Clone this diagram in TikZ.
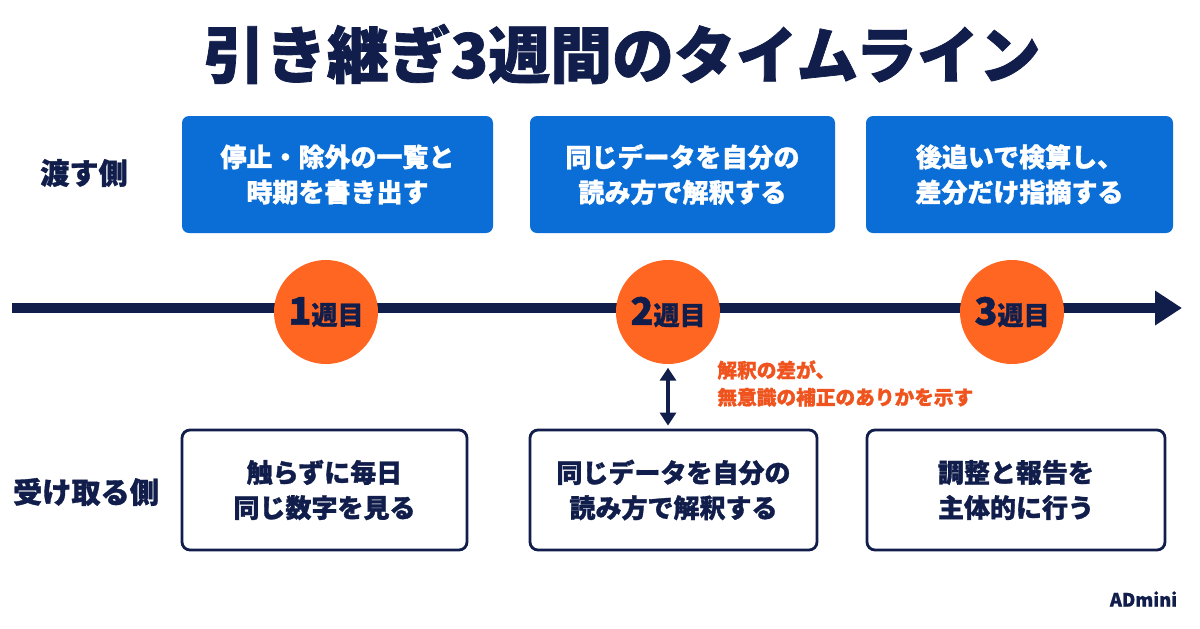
\documentclass[tikz,border=0pt]{standalone}
\usepackage{fontspec}
\setmainfont{Noto Sans CJK JP}[BoldFeatures={FakeBold=1.2}]
\usetikzlibrary{arrows.meta}
\definecolor{navy}{HTML}{111E4B}
\definecolor{boxblue}{HTML}{0A6ED6}
\definecolor{weekorange}{HTML}{FF6622}
\definecolor{noteorange}{HTML}{F0541E}

\begin{document}
\begin{tikzpicture}[font=\bfseries, text=navy,
		givebox/.style={fill=boxblue, rounded corners=0.7mm, text=white, align=center, inner sep=0pt, minimum height=1.17cm, font=\bfseries\fontsize{7.4}{10}\selectfont},
		takebox/.style={draw=navy, line width=0.8pt, fill=white, rounded corners=0.8mm, align=center, inner sep=0pt, minimum height=1.2cm, font=\bfseries\fontsize{7.4}{10}\selectfont},
		week/.style={circle, fill=weekorange, minimum size=1.04cm, inner sep=0pt, font=\bfseries\fontsize{7.4}{8}\selectfont},
		side/.style={font=\bfseries\fontsize{8.3}{9}\selectfont}]
		\fill[white] (0,0) rectangle (12,6.28);
		\useasboundingbox (0,0) rectangle (12,6.28);

		\node (title) at (6.22,5.74) {\fontsize{17.6}{18}\selectfont 引き継ぎ3週間のタイムライン};

		\node[side] (give) at (0.84,4.55) {渡す側};
		\node[side] (take) at (0.86,1.36) {受け取る側};

		\node[givebox, minimum width=3.11cm] (give1) at (3.375,4.535) {停止・除外の一覧と\\時期を書き出す};
		\node[givebox, minimum width=3.05cm] (give2) at (6.825,4.535) {同じデータを自分の\\読み方で解釈する};
		\node[givebox, minimum width=3.07cm] (give3) at (10.195,4.535) {後追いで検算し、\\差分だけ指摘する};

		\coordinate (tlstart) at (0.12,3.20);
		\coordinate (tlend) at (11.82,3.20);
		\draw[navy, line width=1mm, -{Triangle[length=2.7mm,width=3.3mm]}] (tlstart) -- (tlend);

		\node[week] (wk1) at (3.26,3.16) {{\fontsize{10.8}{11}\selectfont 1}週目};
		\node[week] (wk2) at (6.68,3.16) {{\fontsize{10.8}{11}\selectfont 2}週目};
		\node[week] (wk3) at (10.12,3.16) {{\fontsize{10.8}{11}\selectfont 3}週目};

		\node[takebox, minimum width=2.85cm] (take1) at (3.245,1.38) {触らずに毎日\\同じ数字を見る};
		\node[takebox, minimum width=2.87cm] (take2) at (6.735,1.38) {同じデータを自分の\\読み方で解釈する};
		\node[takebox, minimum width=2.98cm] (take3) at (10.16,1.38) {調整と報告を\\主体的に行う};

		\draw[navy, line width=1.2pt, {Triangle[length=1.3mm,width=1.6mm]}-{Triangle[length=1.3mm,width=1.6mm]}] ([yshift=-0.3mm]wk2.south) -- ([yshift=0.3mm]wk2.south |- take2.north);

		\node[anchor=west, align=left, text=noteorange, font=\bfseries\fontsize{5.6}{7.7}\selectfont] (note) at (7.05,2.445) {解釈の差が、\\無意識の補正のありかを示す};

		\node[font=\fontsize{5.2}{6}\selectfont\bfseries] (brand) at (11.435,0.29) {ADmini};
	\end{tikzpicture}
\end{document}
